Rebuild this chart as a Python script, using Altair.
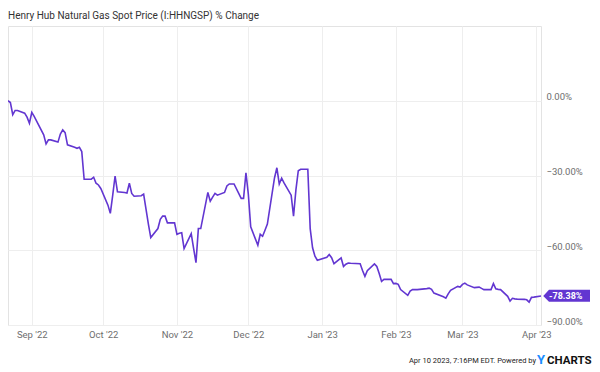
import altair as alt
import pandas as pd

TITLE = "Henry Hub Natural Gas Spot Price (I:HHNGSP) % Change"
CREDIT = "Apr 10 2023, 7:16PM EDT. Powered by"
PURPLE = "#6236d1"

dates = [
    "2022-08-22", "2022-08-23", "2022-08-24", "2022-08-25", "2022-08-26",
    "2022-08-29", "2022-08-30", "2022-08-31", "2022-09-01", "2022-09-02",
    "2022-09-06", "2022-09-07", "2022-09-08", "2022-09-09",
    "2022-09-12", "2022-09-13", "2022-09-14", "2022-09-15", "2022-09-16",
    "2022-09-19", "2022-09-20", "2022-09-21", "2022-09-22", "2022-09-23",
    "2022-09-26", "2022-09-27", "2022-09-28", "2022-09-29", "2022-09-30",
    "2022-10-03", "2022-10-04", "2022-10-05", "2022-10-06", "2022-10-07",
    "2022-10-10", "2022-10-11", "2022-10-12", "2022-10-13", "2022-10-14",
    "2022-10-17", "2022-10-18", "2022-10-19", "2022-10-20", "2022-10-21",
    "2022-10-24", "2022-10-25", "2022-10-26", "2022-10-27", "2022-10-28",
    "2022-10-31", "2022-11-01", "2022-11-02", "2022-11-03", "2022-11-04",
    "2022-11-07", "2022-11-08", "2022-11-09", "2022-11-10", "2022-11-11",
    "2022-11-14", "2022-11-15", "2022-11-16", "2022-11-17", "2022-11-18",
    "2022-11-21", "2022-11-22", "2022-11-23", "2022-11-25",
    "2022-11-28", "2022-11-29", "2022-11-30", "2022-12-01", "2022-12-02",
    "2022-12-05", "2022-12-06", "2022-12-07", "2022-12-08", "2022-12-09",
    "2022-12-12", "2022-12-13", "2022-12-14", "2022-12-15", "2022-12-16",
    "2022-12-19", "2022-12-20", "2022-12-21", "2022-12-22", "2022-12-23",
    "2022-12-26", "2022-12-27", "2022-12-28", "2022-12-29", "2022-12-30",
    "2023-01-03", "2023-01-04", "2023-01-05", "2023-01-06",
    "2023-01-09", "2023-01-10", "2023-01-11", "2023-01-12", "2023-01-13",
    "2023-01-17", "2023-01-18", "2023-01-19", "2023-01-20",
    "2023-01-23", "2023-01-24", "2023-01-25", "2023-01-26", "2023-01-27",
    "2023-01-30", "2023-01-31", "2023-02-01", "2023-02-02", "2023-02-03",
    "2023-02-06", "2023-02-07", "2023-02-08", "2023-02-09", "2023-02-10",
    "2023-02-13", "2023-02-14", "2023-02-15", "2023-02-16", "2023-02-17",
    "2023-02-21", "2023-02-22", "2023-02-23", "2023-02-24",
    "2023-02-27", "2023-02-28", "2023-03-01", "2023-03-02", "2023-03-03",
    "2023-03-06", "2023-03-07", "2023-03-08", "2023-03-09", "2023-03-10",
    "2023-03-13", "2023-03-14", "2023-03-15", "2023-03-16", "2023-03-17",
    "2023-03-20", "2023-03-21", "2023-03-22", "2023-03-23", "2023-03-24",
    "2023-03-27", "2023-03-28", "2023-03-29", "2023-03-30", "2023-03-31",
    "2023-04-03",
]

pct_change = [
    0.0, -0.7, -5.6, -3.9, -3.9,
    -5.0, -6.6, -9.0, -4.7, -6.3,
    -13.7, -17.3, -15.7, -15.7,
    -16.6, -13.4, -11.7, -12.8, -17.7,
    -18.7, -19.1, -18.7, -20.4, -31.5,
    -31.5, -30.7, -33.1, -33.8, -35.2,
    -41.9, -45.2, -38.0, -30.2, -36.5,
    -36.8, -37.0, -33.1, -37.2, -38.3,
    -38.1, -37.5, -43.5, -49.5, -54.9,
    -51.3, -47.6, -46.3, -46.3, -49.0,
    -49.0, -53.6, -53.2, -53.0, -59.3,
    -53.3, -59.2, -65.0, -51.3, -51.3,
    -36.8, -40.3, -38.7, -37.2, -37.9,
    -36.8, -34.2, -33.4, -33.4,
    -39.2, -39.2, -28.9, -37.5, -50.6,
    -58.0, -53.6, -54.4, -52.0, -49.5,
    -31.0, -26.9, -33.4, -31.1, -33.0,
    -37.9, -46.3, -35.8, -28.1, -27.5,
    -27.5, -51.3, -59.0, -62.4, -64.0,
    -62.8, -61.7, -63.0, -65.4,
    -63.1, -66.5, -65.6, -65.1, -65.2,
    -65.4, -68.1, -70.5, -68.2,
    -65.5, -66.5, -69.3, -72.5, -71.7,
    -71.7, -73.4, -73.3, -73.7, -75.8,
    -78.1, -76.4, -75.8, -75.8, -75.8,
    -75.5, -75.4, -75.2, -75.7, -77.2,
    -78.7, -79.2, -77.5, -76.1,
    -74.5, -74.8, -73.7, -73.2, -73.9,
    -75.0, -74.9, -74.8, -75.3, -75.8,
    -75.8, -73.4, -75.5, -75.7, -75.8,
    -78.5, -80.4, -79.3, -79.5, -79.6,
    -79.7, -79.9, -80.8, -78.9, -78.8,
    -78.38,
]

month_ticks = [
    (2022, 9), (2022, 10), (2022, 11), (2022, 12),
    (2023, 1), (2023, 2), (2023, 3), (2023, 4),
]
y_ticks = [0, -30, -60, -90]
y_domain = [-90, 30]
last_label = "-78.38%"

df = pd.DataFrame({"date": [d + "T00:00:00" for d in dates], "value": pct_change})
last = df.iloc[[-1]].copy()
last["label"] = last_label

x_scale = alt.Scale(domain=[alt.DateTime(year=2022, month=8, date=22),
                            alt.DateTime(year=2023, month=4, date=3)])
y_scale = alt.Scale(domain=y_domain, nice=False, zero=False)

x_axis = alt.Axis(
    values=[alt.DateTime(year=y, month=m, date=1) for y, m in month_ticks],
    format="%b '%y", title=None, labelPadding=4, labelFlush=False,
)
y_axis = alt.Axis(
    values=y_ticks, orient="right", title=None,
    labelExpr="format(datum.value, '.2f') + '%'",
    labelPadding=5, labelBaseline="alphabetic", labelOffset=-1,
)

line = alt.Chart(df).mark_line(color=PURPLE, strokeWidth=1.6).encode(
    x=alt.X("date:T", scale=x_scale, axis=x_axis),
    y=alt.Y("value:Q", scale=y_scale, axis=y_axis),
)

badge_shape = "M0.2,0 L0.7,-0.55 L4.3,-0.55 L4.3,0.5 L0.7,0.5 Z"
badge = alt.Chart(last).mark_point(
    shape=badge_shape, size=520, filled=True, color=PURPLE, opacity=1, strokeWidth=0
).encode(x="date:T", y="value:Q")

badge_text = alt.Chart(last).mark_text(
    align="left", baseline="middle", dx=8, dy=0, color="white",
    font="Roboto", fontSize=9, fontWeight="bold",
).encode(x="date:T", y="value:Q", text="label:N")

title = alt.Chart(pd.DataFrame({"t": [TITLE]})).mark_text(
    align="left", baseline="alphabetic", font="Roboto", fontSize=10, color="#333333"
).encode(x=alt.value(0), y=alt.value(-7), text="t:N")

credit = alt.Chart(pd.DataFrame({"t": [CREDIT]})).mark_text(
    align="right", baseline="alphabetic", font="Roboto", fontSize=7.5, color="#222222"
).encode(x=alt.value(528), y=alt.value(337), text="t:N")

logo_y = alt.Chart(pd.DataFrame({"t": ["Y"]})).mark_text(
    align="left", baseline="alphabetic", font="Roboto", fontSize=13,
    fontWeight="bold", color="#1a8cff"
).encode(x=alt.value(529), y=alt.value(338), text="t:N")

logo_c = alt.Chart(pd.DataFrame({"t": ["CHARTS"]})).mark_text(
    align="left", baseline="alphabetic", font="Roboto", fontSize=11.5,
    fontWeight="bold", color="#111111"
).encode(x=alt.value(539), y=alt.value(338), text="t:N")

chart = alt.layer(line, badge, badge_text, title, credit, logo_y, logo_c).properties(
    width=533, height=299,
    autosize=alt.AutoSizeParams(type="none"),
    padding={"left": 0, "top": 18, "right": 51, "bottom": 43},
).configure_view(
    stroke="#e3e3e3", strokeWidth=1
).configure_axis(
    domain=False, ticks=False, grid=True, gridColor="#eeeeee", gridWidth=1,
    labelFont="Roboto", labelFontSize=9.5, labelColor="#6e6e6e",
)

chart.save("out.html", embed_options={"renderer": "svg", "actions": False})
